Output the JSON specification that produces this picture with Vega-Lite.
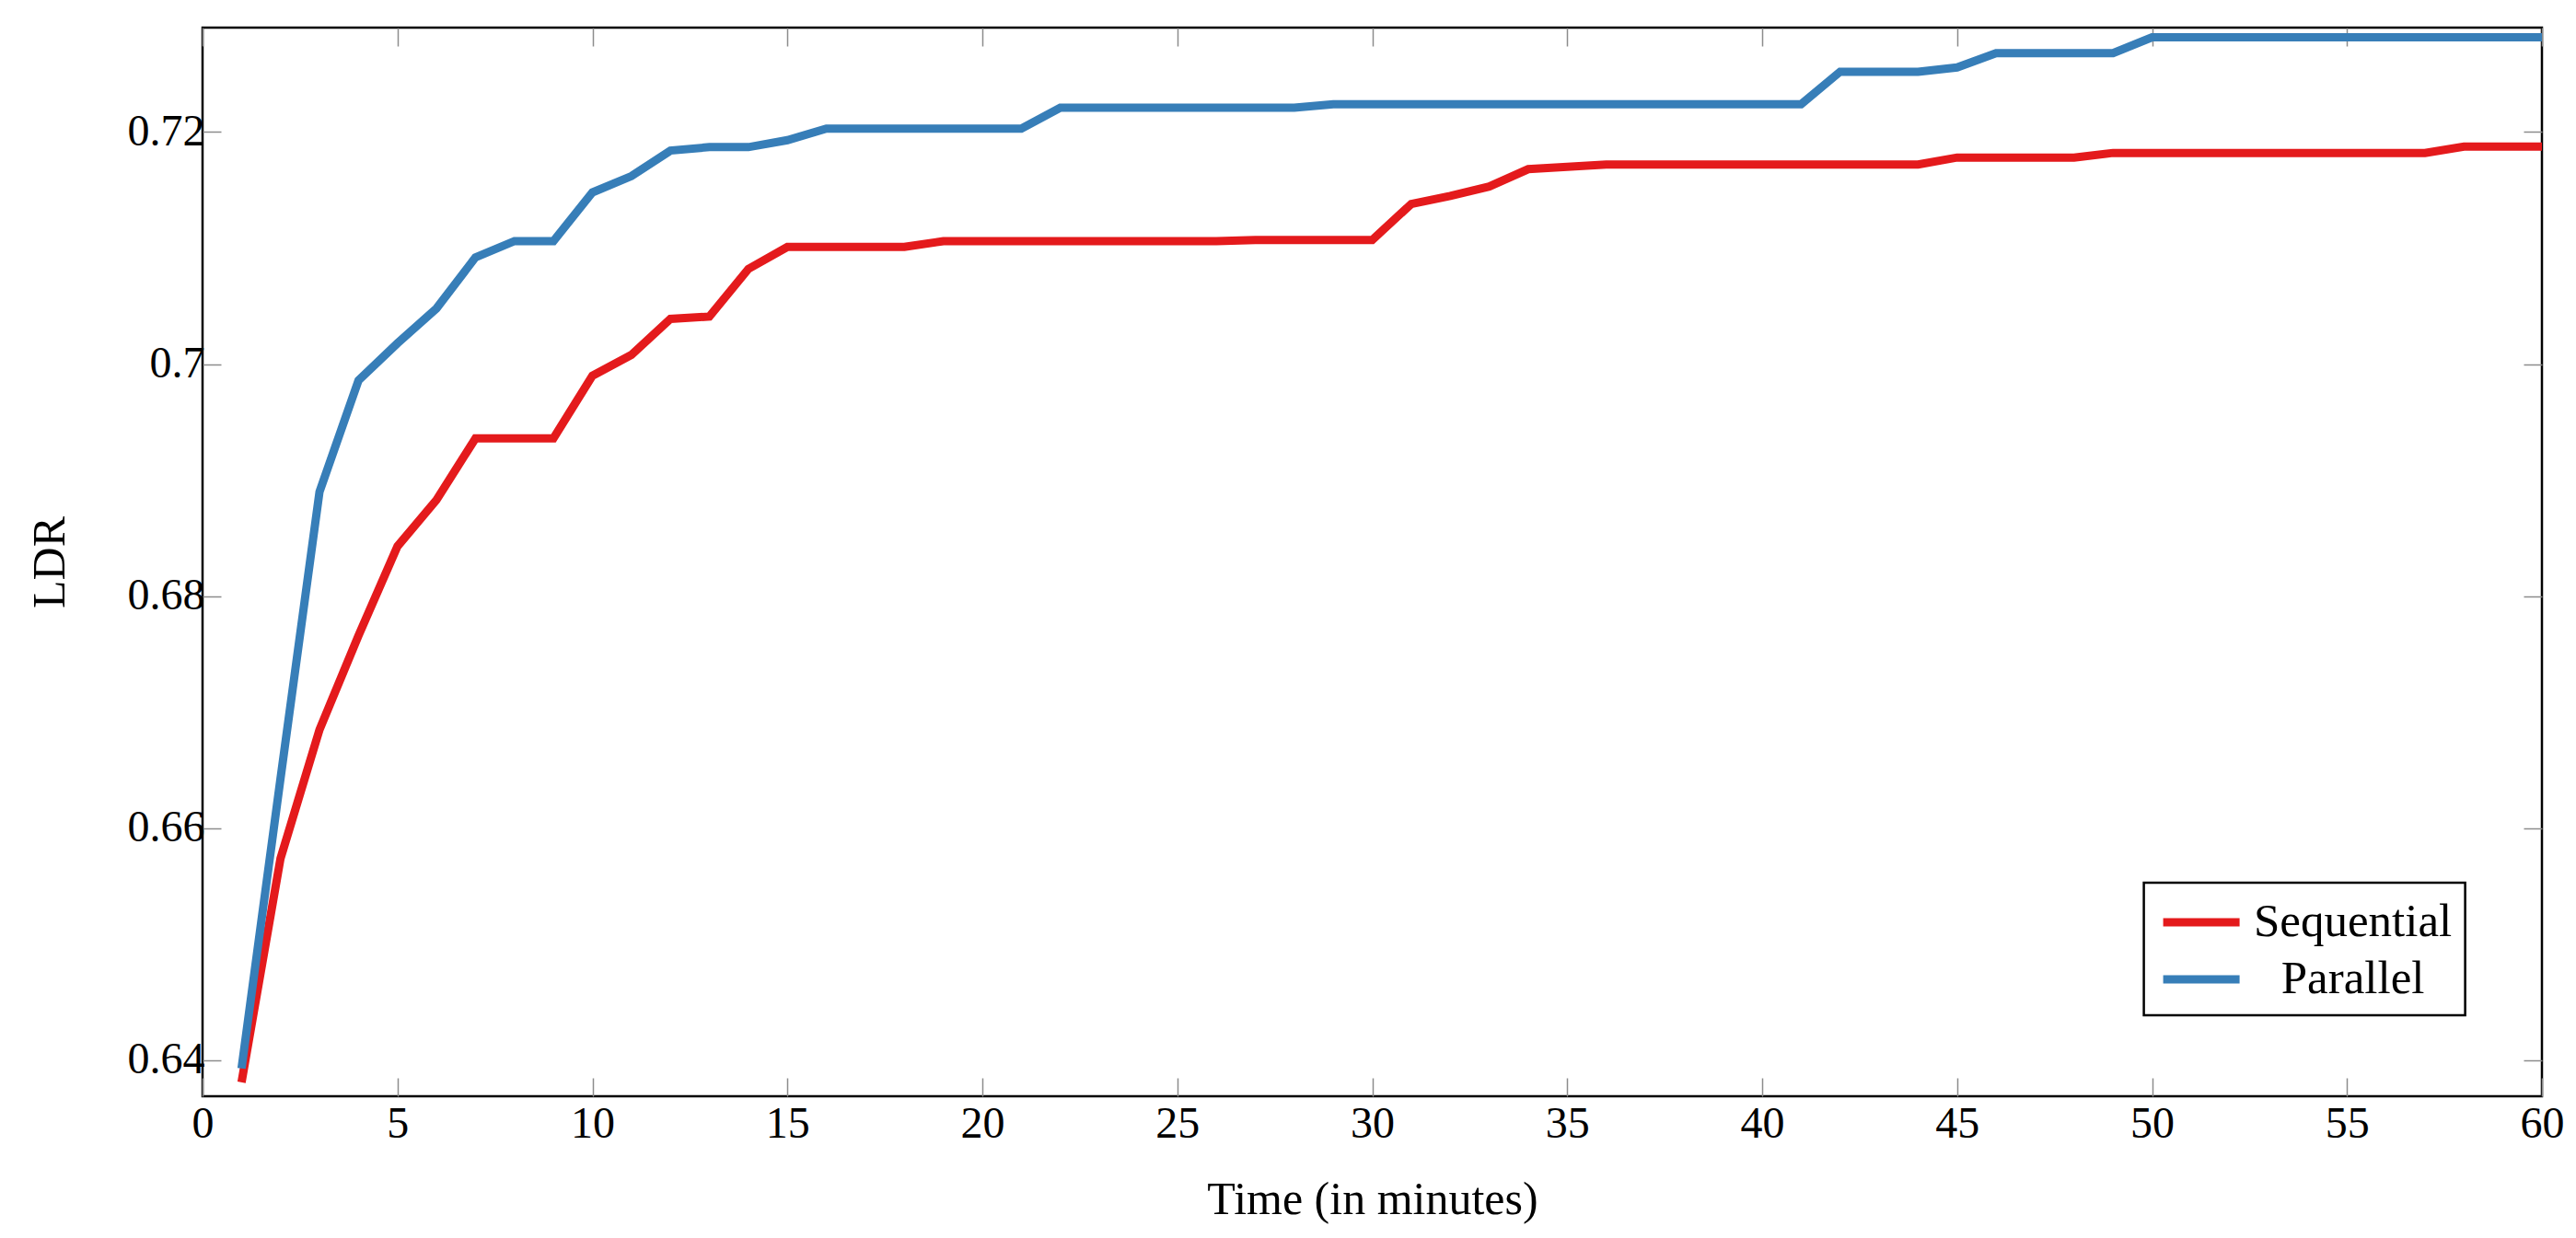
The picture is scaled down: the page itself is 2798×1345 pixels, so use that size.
{
  "$schema": "https://vega.github.io/schema/vega-lite/v6.json",
  "width": 2541,
  "height": 1161,
  "autosize": {"type": "none"},
  "padding": {"left": 220, "top": 30, "right": 37, "bottom": 154},
  "background": "white",
  "config": {
    "font": "Liberation Serif",
    "view": {"stroke": "black", "strokeWidth": 2.5},
    "axis": {
      "grid": false,
      "domain": false,
      "tickColor": "#8c8c8c",
      "tickWidth": 1.5,
      "tickSize": -20,
      "labelFont": "Liberation Serif",
      "labelFontSize": 48,
      "labelColor": "black",
      "titleFont": "Liberation Serif",
      "titleFontSize": 50,
      "titleFontWeight": "normal",
      "titleColor": "black"
    },
    "legend": {"strokeWidth": 2.5}
  },
  "datasets": {
    "ldr": [
      {"time": 1, "method": "Sequential", "ldr": 0.6381},
      {"time": 2, "method": "Sequential", "ldr": 0.6574},
      {"time": 3, "method": "Sequential", "ldr": 0.6685},
      {"time": 4, "method": "Sequential", "ldr": 0.6766},
      {"time": 5, "method": "Sequential", "ldr": 0.6843},
      {"time": 6, "method": "Sequential", "ldr": 0.6883},
      {"time": 7, "method": "Sequential", "ldr": 0.6936},
      {"time": 8, "method": "Sequential", "ldr": 0.6936},
      {"time": 9, "method": "Sequential", "ldr": 0.6936},
      {"time": 10, "method": "Sequential", "ldr": 0.6990},
      {"time": 11, "method": "Sequential", "ldr": 0.7008},
      {"time": 12, "method": "Sequential", "ldr": 0.7039},
      {"time": 13, "method": "Sequential", "ldr": 0.7041},
      {"time": 14, "method": "Sequential", "ldr": 0.7082},
      {"time": 15, "method": "Sequential", "ldr": 0.7101},
      {"time": 16, "method": "Sequential", "ldr": 0.7101},
      {"time": 17, "method": "Sequential", "ldr": 0.7101},
      {"time": 18, "method": "Sequential", "ldr": 0.7101},
      {"time": 19, "method": "Sequential", "ldr": 0.7106},
      {"time": 20, "method": "Sequential", "ldr": 0.7106},
      {"time": 21, "method": "Sequential", "ldr": 0.7106},
      {"time": 22, "method": "Sequential", "ldr": 0.7106},
      {"time": 23, "method": "Sequential", "ldr": 0.7106},
      {"time": 24, "method": "Sequential", "ldr": 0.7106},
      {"time": 25, "method": "Sequential", "ldr": 0.7106},
      {"time": 26, "method": "Sequential", "ldr": 0.7106},
      {"time": 27, "method": "Sequential", "ldr": 0.7107},
      {"time": 28, "method": "Sequential", "ldr": 0.7107},
      {"time": 29, "method": "Sequential", "ldr": 0.7107},
      {"time": 30, "method": "Sequential", "ldr": 0.7107},
      {"time": 31, "method": "Sequential", "ldr": 0.7138},
      {"time": 32, "method": "Sequential", "ldr": 0.7145},
      {"time": 33, "method": "Sequential", "ldr": 0.7153},
      {"time": 34, "method": "Sequential", "ldr": 0.7168},
      {"time": 35, "method": "Sequential", "ldr": 0.7170},
      {"time": 36, "method": "Sequential", "ldr": 0.7172},
      {"time": 37, "method": "Sequential", "ldr": 0.7172},
      {"time": 38, "method": "Sequential", "ldr": 0.7172},
      {"time": 39, "method": "Sequential", "ldr": 0.7172},
      {"time": 40, "method": "Sequential", "ldr": 0.7172},
      {"time": 41, "method": "Sequential", "ldr": 0.7172},
      {"time": 42, "method": "Sequential", "ldr": 0.7172},
      {"time": 43, "method": "Sequential", "ldr": 0.7172},
      {"time": 44, "method": "Sequential", "ldr": 0.7172},
      {"time": 45, "method": "Sequential", "ldr": 0.7178},
      {"time": 46, "method": "Sequential", "ldr": 0.7178},
      {"time": 47, "method": "Sequential", "ldr": 0.7178},
      {"time": 48, "method": "Sequential", "ldr": 0.7178},
      {"time": 49, "method": "Sequential", "ldr": 0.7182},
      {"time": 50, "method": "Sequential", "ldr": 0.7182},
      {"time": 51, "method": "Sequential", "ldr": 0.7182},
      {"time": 52, "method": "Sequential", "ldr": 0.7182},
      {"time": 53, "method": "Sequential", "ldr": 0.7182},
      {"time": 54, "method": "Sequential", "ldr": 0.7182},
      {"time": 55, "method": "Sequential", "ldr": 0.7182},
      {"time": 56, "method": "Sequential", "ldr": 0.7182},
      {"time": 57, "method": "Sequential", "ldr": 0.7182},
      {"time": 58, "method": "Sequential", "ldr": 0.71875},
      {"time": 59, "method": "Sequential", "ldr": 0.71875},
      {"time": 60, "method": "Sequential", "ldr": 0.71875},
      {"time": 1, "method": "Parallel", "ldr": 0.6393},
      {"time": 2, "method": "Parallel", "ldr": 0.6643},
      {"time": 3, "method": "Parallel", "ldr": 0.6890},
      {"time": 4, "method": "Parallel", "ldr": 0.6986},
      {"time": 5, "method": "Parallel", "ldr": 0.7018},
      {"time": 6, "method": "Parallel", "ldr": 0.7048},
      {"time": 7, "method": "Parallel", "ldr": 0.7092},
      {"time": 8, "method": "Parallel", "ldr": 0.7106},
      {"time": 9, "method": "Parallel", "ldr": 0.7106},
      {"time": 10, "method": "Parallel", "ldr": 0.7148},
      {"time": 11, "method": "Parallel", "ldr": 0.7162},
      {"time": 12, "method": "Parallel", "ldr": 0.7184},
      {"time": 13, "method": "Parallel", "ldr": 0.7187},
      {"time": 14, "method": "Parallel", "ldr": 0.7187},
      {"time": 15, "method": "Parallel", "ldr": 0.7193},
      {"time": 16, "method": "Parallel", "ldr": 0.7203},
      {"time": 17, "method": "Parallel", "ldr": 0.7203},
      {"time": 18, "method": "Parallel", "ldr": 0.7203},
      {"time": 19, "method": "Parallel", "ldr": 0.7203},
      {"time": 20, "method": "Parallel", "ldr": 0.7203},
      {"time": 21, "method": "Parallel", "ldr": 0.7203},
      {"time": 22, "method": "Parallel", "ldr": 0.7221},
      {"time": 23, "method": "Parallel", "ldr": 0.7221},
      {"time": 24, "method": "Parallel", "ldr": 0.7221},
      {"time": 25, "method": "Parallel", "ldr": 0.7221},
      {"time": 26, "method": "Parallel", "ldr": 0.7221},
      {"time": 27, "method": "Parallel", "ldr": 0.7221},
      {"time": 28, "method": "Parallel", "ldr": 0.7221},
      {"time": 29, "method": "Parallel", "ldr": 0.7224},
      {"time": 30, "method": "Parallel", "ldr": 0.7224},
      {"time": 31, "method": "Parallel", "ldr": 0.7224},
      {"time": 32, "method": "Parallel", "ldr": 0.7224},
      {"time": 33, "method": "Parallel", "ldr": 0.7224},
      {"time": 34, "method": "Parallel", "ldr": 0.7224},
      {"time": 35, "method": "Parallel", "ldr": 0.7224},
      {"time": 36, "method": "Parallel", "ldr": 0.7224},
      {"time": 37, "method": "Parallel", "ldr": 0.7224},
      {"time": 38, "method": "Parallel", "ldr": 0.7224},
      {"time": 39, "method": "Parallel", "ldr": 0.7224},
      {"time": 40, "method": "Parallel", "ldr": 0.7224},
      {"time": 41, "method": "Parallel", "ldr": 0.7224},
      {"time": 42, "method": "Parallel", "ldr": 0.7252},
      {"time": 43, "method": "Parallel", "ldr": 0.7252},
      {"time": 44, "method": "Parallel", "ldr": 0.7252},
      {"time": 45, "method": "Parallel", "ldr": 0.72557},
      {"time": 46, "method": "Parallel", "ldr": 0.7268},
      {"time": 47, "method": "Parallel", "ldr": 0.7268},
      {"time": 48, "method": "Parallel", "ldr": 0.7268},
      {"time": 49, "method": "Parallel", "ldr": 0.7268},
      {"time": 50, "method": "Parallel", "ldr": 0.72816},
      {"time": 51, "method": "Parallel", "ldr": 0.72816},
      {"time": 52, "method": "Parallel", "ldr": 0.72816},
      {"time": 53, "method": "Parallel", "ldr": 0.72816},
      {"time": 54, "method": "Parallel", "ldr": 0.72816},
      {"time": 55, "method": "Parallel", "ldr": 0.72816},
      {"time": 56, "method": "Parallel", "ldr": 0.72816},
      {"time": 57, "method": "Parallel", "ldr": 0.72816},
      {"time": 58, "method": "Parallel", "ldr": 0.72816},
      {"time": 59, "method": "Parallel", "ldr": 0.72816},
      {"time": 60, "method": "Parallel", "ldr": 0.72816}
    ]
  },
  "data": {"name": "ldr"},
  "layer": [
    {
      "mark": {"type": "line", "strokeWidth": 9, "strokeJoin": "miter"},
      "encoding": {
        "x": {
          "field": "time", "type": "quantitative",
          "scale": {"domain": [0, 60], "nice": false, "zero": false},
          "axis": {"orient": "bottom", "title": "Time (in minutes)", "values": [0, 5, 10, 15, 20, 25, 30, 35, 40, 45, 50, 55, 60], "labelPadding": 26, "titlePadding": 33, "labelFlush": false}
        },
        "y": {
          "field": "ldr", "type": "quantitative",
          "scale": {"domain": [0.6369, 0.729], "nice": false, "zero": false},
          "axis": {"orient": "left", "title": "LDR", "values": [0.64, 0.66, 0.68, 0.7, 0.72], "format": ".2~f", "labelPadding": 18, "titlePadding": 59, "labelFlush": false}
        },
        "color": {
          "field": "method", "type": "nominal",
          "scale": {"domain": ["Sequential", "Parallel"], "range": ["#e41a1c", "#377eb8"]},
          "legend": {
            "title": null,
            "orient": "none",
            "legendX": 2108.6,
            "legendY": 929,
            "symbolType": "M-1.66,0L1.66,0",
            "symbolSize": 2500,
            "symbolStrokeWidth": 9,
            "symbolOffset": 19.5,
            "labelOffset": 135,
            "labelAlign": "center",
            "labelLimit": 0,
            "labelFont": "Liberation Serif",
            "labelFontSize": 51,
            "labelColor": "black",
            "strokeColor": "black",
            "fillColor": "white",
            "padding": 13.5,
            "rowPadding": 7,
            "cornerRadius": 0
          }
        }
      }
    },
    {
      "mark": {"type": "point", "opacity": 0},
      "encoding": {
        "x": {
          "field": "time", "type": "quantitative",
          "axis": {"orient": "top", "title": null, "labels": false, "values": [0, 5, 10, 15, 20, 25, 30, 35, 40, 45, 50, 55, 60]}
        },
        "y": {
          "field": "ldr", "type": "quantitative",
          "axis": {"orient": "right", "title": null, "labels": false, "values": [0.64, 0.66, 0.68, 0.7, 0.72]}
        }
      }
    }
  ],
  "resolve": {"axis": {"x": "independent", "y": "independent"}}
}
